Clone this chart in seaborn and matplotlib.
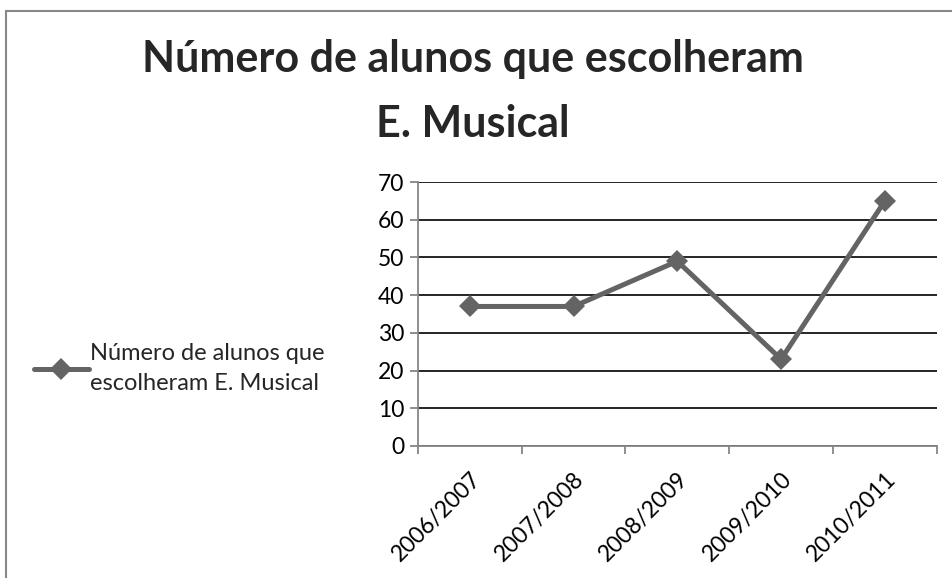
import matplotlib
matplotlib.use("Agg")
import matplotlib.pyplot as plt
import matplotlib.transforms as mtransforms
import seaborn as sns
import pandas as pd
from matplotlib.patches import Rectangle
from matplotlib.ticker import FixedLocator, MultipleLocator

anos = ["2006/2007", "2007/2008", "2008/2009", "2009/2010", "2010/2011"]
alunos = [37, 37, 49, 23, 65]
serie = "Número de alunos que\nescolheram E. Musical"
titulo = "Número de alunos que escolheram\nE. Musical"

sns.set_theme(style="white")
plt.rcParams["font.family"] = ["Lato", "DejaVu Sans"]

df = pd.DataFrame({"ano": anos, "alunos": alunos, "serie": serie})
df["pos"] = range(len(anos))

fig = plt.figure(figsize=(9.52, 5.78), dpi=100)
ax = fig.add_axes([0.439, 0.2284, 0.545, 0.4567])

line_col = "#646464"
axis_col = "#868686"

sns.lineplot(data=df, x="pos", y="alunos", hue="serie", palette=[line_col],
             marker="D", markersize=11, linewidth=3.6, markeredgewidth=0,
             ax=ax, legend=True)

ax.set_xlim(-0.5, len(anos) - 0.5)
ax.set_ylim(0, 70)
ax.yaxis.set_major_locator(MultipleLocator(10))
ax.grid(axis="y", color="black", linewidth=1.2)
ax.grid(axis="x", visible=False)
ax.set_axisbelow(True)

ax.set_xticks(range(len(anos)))
ax.set_xticklabels(anos, rotation=45, ha="right", rotation_mode="anchor")
shift = mtransforms.ScaledTranslation(4 / 100, 0, fig.dpi_scale_trans)
for lbl in ax.get_xticklabels():
    lbl.set_transform(lbl.get_transform() + shift)
ax.xaxis.set_minor_locator(FixedLocator([i - 0.5 for i in range(len(anos) + 1)]))
ax.tick_params(axis="x", which="major", length=0, pad=16, labelsize=16.5, colors="black")
ax.tick_params(axis="x", which="minor", length=6, width=1.3, color=axis_col, direction="out", bottom=True)
ax.tick_params(axis="y", which="major", length=6, width=1.3, color=axis_col, direction="out",
               left=True, labelsize=16.5, labelcolor="black", pad=4)
ax.set_xlabel("")
ax.set_ylabel("")

for side in ("top", "right"):
    ax.spines[side].set_visible(False)
for side in ("left", "bottom"):
    ax.spines[side].set_color(axis_col)
    ax.spines[side].set_linewidth(1.3)

handles, labels = ax.get_legend_handles_labels()
ax.get_legend().remove()
leg = fig.legend(handles, labels, loc="center left", bbox_to_anchor=(0.026, 0.362),
                 frameon=False, fontsize=17, handlelength=2.3, handletextpad=0.08,
                 borderaxespad=0)
for t in leg.get_texts():
    t.set_linespacing(1.55)

fig.text(0.497, 0.842, titulo, ha="center", va="center", fontsize=31,
         fontweight="bold", linespacing=1.75)

fig.patches.append(Rectangle((6 / 952, -0.1), 1.2, 1.1 - 11 / 578, transform=fig.transFigure,
                             fill=False, edgecolor="#888888", linewidth=1.5))

fig.savefig("out.png", dpi=100)
